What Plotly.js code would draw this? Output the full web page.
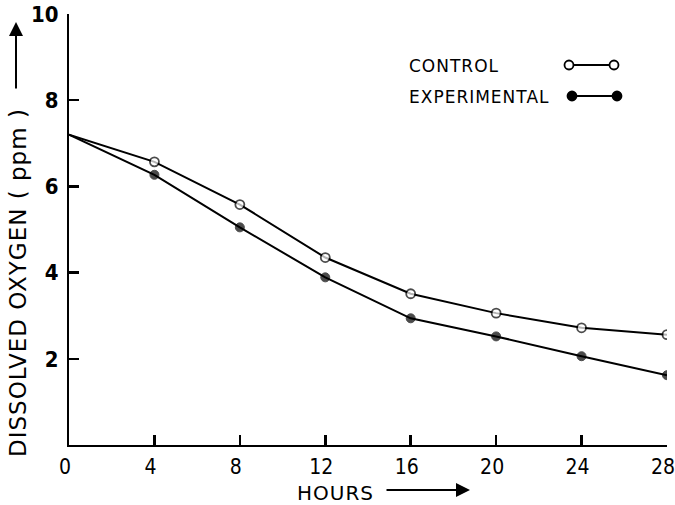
<!DOCTYPE html>
<html>
<head>
<meta charset="utf-8">
<script src="https://cdn.plot.ly/plotly-3.0.1.min.js"></script>
<style>
  body { margin: 0; padding: 0; background: #fff; }
  #chart { width: 675px; height: 505px; }
  .annotation-text { letter-spacing: 1px; }
</style>
</head>
<body>
<div id="chart"></div>
<script>
const hours = [0, 4, 8, 12, 16, 20, 24, 28];
const controlDO = [7.2, 6.57, 5.58, 4.35, 3.51, 3.06, 2.72, 2.56];
const experimentalDO = [7.2, 6.27, 5.05, 3.89, 2.94, 2.52, 2.06, 1.62];
const xTicks = [0, 4, 8, 12, 16, 20, 24, 28];
const xTickText = ['0', '4', '8', '12', '16', '20', '24', '28'];
const yTicks = [2, 4, 6, 8, 10];
const yTickText = ['2', '4', '6', '8', '10'];
const legendLabels = ['CONTROL', 'EXPERIMENTAL'];

const L = 69, R = 667, T = 14, B = 445, W = 675, H = 505;
const px = v => (v - L) / (R - L);
const py = v => (B - v) / (B - T);

// no marker drawn at the common starting point (hour 0)
const markerSizes = hours.map(h => (h === 0 ? 0 : 9));

const traces = [
  {
    x: hours, y: controlDO, mode: 'lines+markers', name: legendLabels[0],
    line: {color: '#000', width: 2},
    marker: {symbol: 'circle', size: markerSizes, color: '#fff', line: {color: '#000', width: 1.8}},
    showlegend: false
  },
  {
    x: hours, y: experimentalDO, mode: 'lines+markers', name: legendLabels[1],
    line: {color: '#000', width: 2},
    marker: {symbol: 'circle', size: markerSizes, color: '#000', line: {color: '#000', width: 1}},
    showlegend: false
  }
];

const textFont = {family: 'DejaVu Sans', size: 17, color: '#000'};

function legendSymbol(xa, xb, yy, filled) {
  return [
    {type: 'line', xref: 'paper', yref: 'paper', x0: px(xa), x1: px(xb), y0: py(yy), y1: py(yy),
     line: {color: '#000', width: 2}},
    {type: 'circle', xref: 'paper', yref: 'paper', xsizemode: 'pixel', ysizemode: 'pixel',
     xanchor: px(xa), yanchor: py(yy), x0: -4.5, x1: 4.5, y0: -4.5, y1: 4.5,
     fillcolor: filled ? '#000' : '#fff', line: {color: '#000', width: 1.8}},
    {type: 'circle', xref: 'paper', yref: 'paper', xsizemode: 'pixel', ysizemode: 'pixel',
     xanchor: px(xb), yanchor: py(yy), x0: -4.5, x1: 4.5, y0: -4.5, y1: 4.5,
     fillcolor: filled ? '#000' : '#fff', line: {color: '#000', width: 1.8}}
  ];
}

const layout = {
  width: W, height: H,
  margin: {l: L, r: W - R, t: T, b: H - B},
  paper_bgcolor: '#fff', plot_bgcolor: '#fff',
  showlegend: false,
  xaxis: {
    range: [0, 28.001], tickmode: 'array', tickvals: xTicks, ticktext: xTickText,
    ticks: 'inside', ticklen: 10, tickwidth: 2.5, tickcolor: '#000',
    ticklabeloverflow: 'allow', ticklabelstandoff: 2, ticklabelshift: -4,
    showline: true, linecolor: '#000', linewidth: 2,
    showgrid: false, zeroline: false,
    tickfont: {family: 'DejaVu Sans Condensed', size: 21, color: '#000'}
  },
  yaxis: {
    range: [0, 10.001], tickmode: 'array', tickvals: yTicks, ticktext: yTickText,
    ticks: 'inside', ticklen: 10, tickwidth: 2.5, tickcolor: '#000',
    ticklabeloverflow: 'allow', ticklabelstandoff: 4,
    showline: true, linecolor: '#000', linewidth: 2,
    showgrid: false, zeroline: false,
    tickfont: {family: 'DejaVu Sans Condensed', size: 22, color: '#000', weight: 'bold'}
  },
  shapes: [].concat(legendSymbol(569, 614, 65, false), legendSymbol(572, 617, 96, true)),
  annotations: [
    {text: legendLabels[0], xref: 'paper', yref: 'paper', x: px(407), y: py(66), xanchor: 'left', yanchor: 'middle',
     showarrow: false, font: textFont},
    {text: legendLabels[1], xref: 'paper', yref: 'paper', x: px(407), y: py(97), xanchor: 'left', yanchor: 'middle',
     showarrow: false, font: textFont},
    {text: 'DISSOLVED OXYGEN ( ppm )', xref: 'paper', yref: 'paper', x: px(18), y: py(283),
     xanchor: 'center', yanchor: 'middle', textangle: -90, showarrow: false,
     font: {family: 'DejaVu Sans', size: 23, color: '#000'}},
    {text: '', xref: 'paper', yref: 'paper', x: px(16), y: py(22), ax: 0, ay: 68,
     showarrow: true, arrowhead: 2, arrowsize: 1.4, arrowwidth: 2, arrowcolor: '#000'},
    {text: 'HOURS', xref: 'paper', yref: 'paper', x: px(335), y: py(493),
     xanchor: 'center', yanchor: 'middle', showarrow: false,
     font: {family: 'DejaVu Sans', size: 20, color: '#000'}},
    {text: '', xref: 'paper', yref: 'paper', x: px(470), y: py(490), ax: -85, ay: 0,
     showarrow: true, arrowhead: 2, arrowsize: 1.4, arrowwidth: 2, arrowcolor: '#000'}
  ]
};

Plotly.newPlot('chart', traces, layout, {displayModeBar: false, staticPlot: true});
</script>
</body>
</html>
